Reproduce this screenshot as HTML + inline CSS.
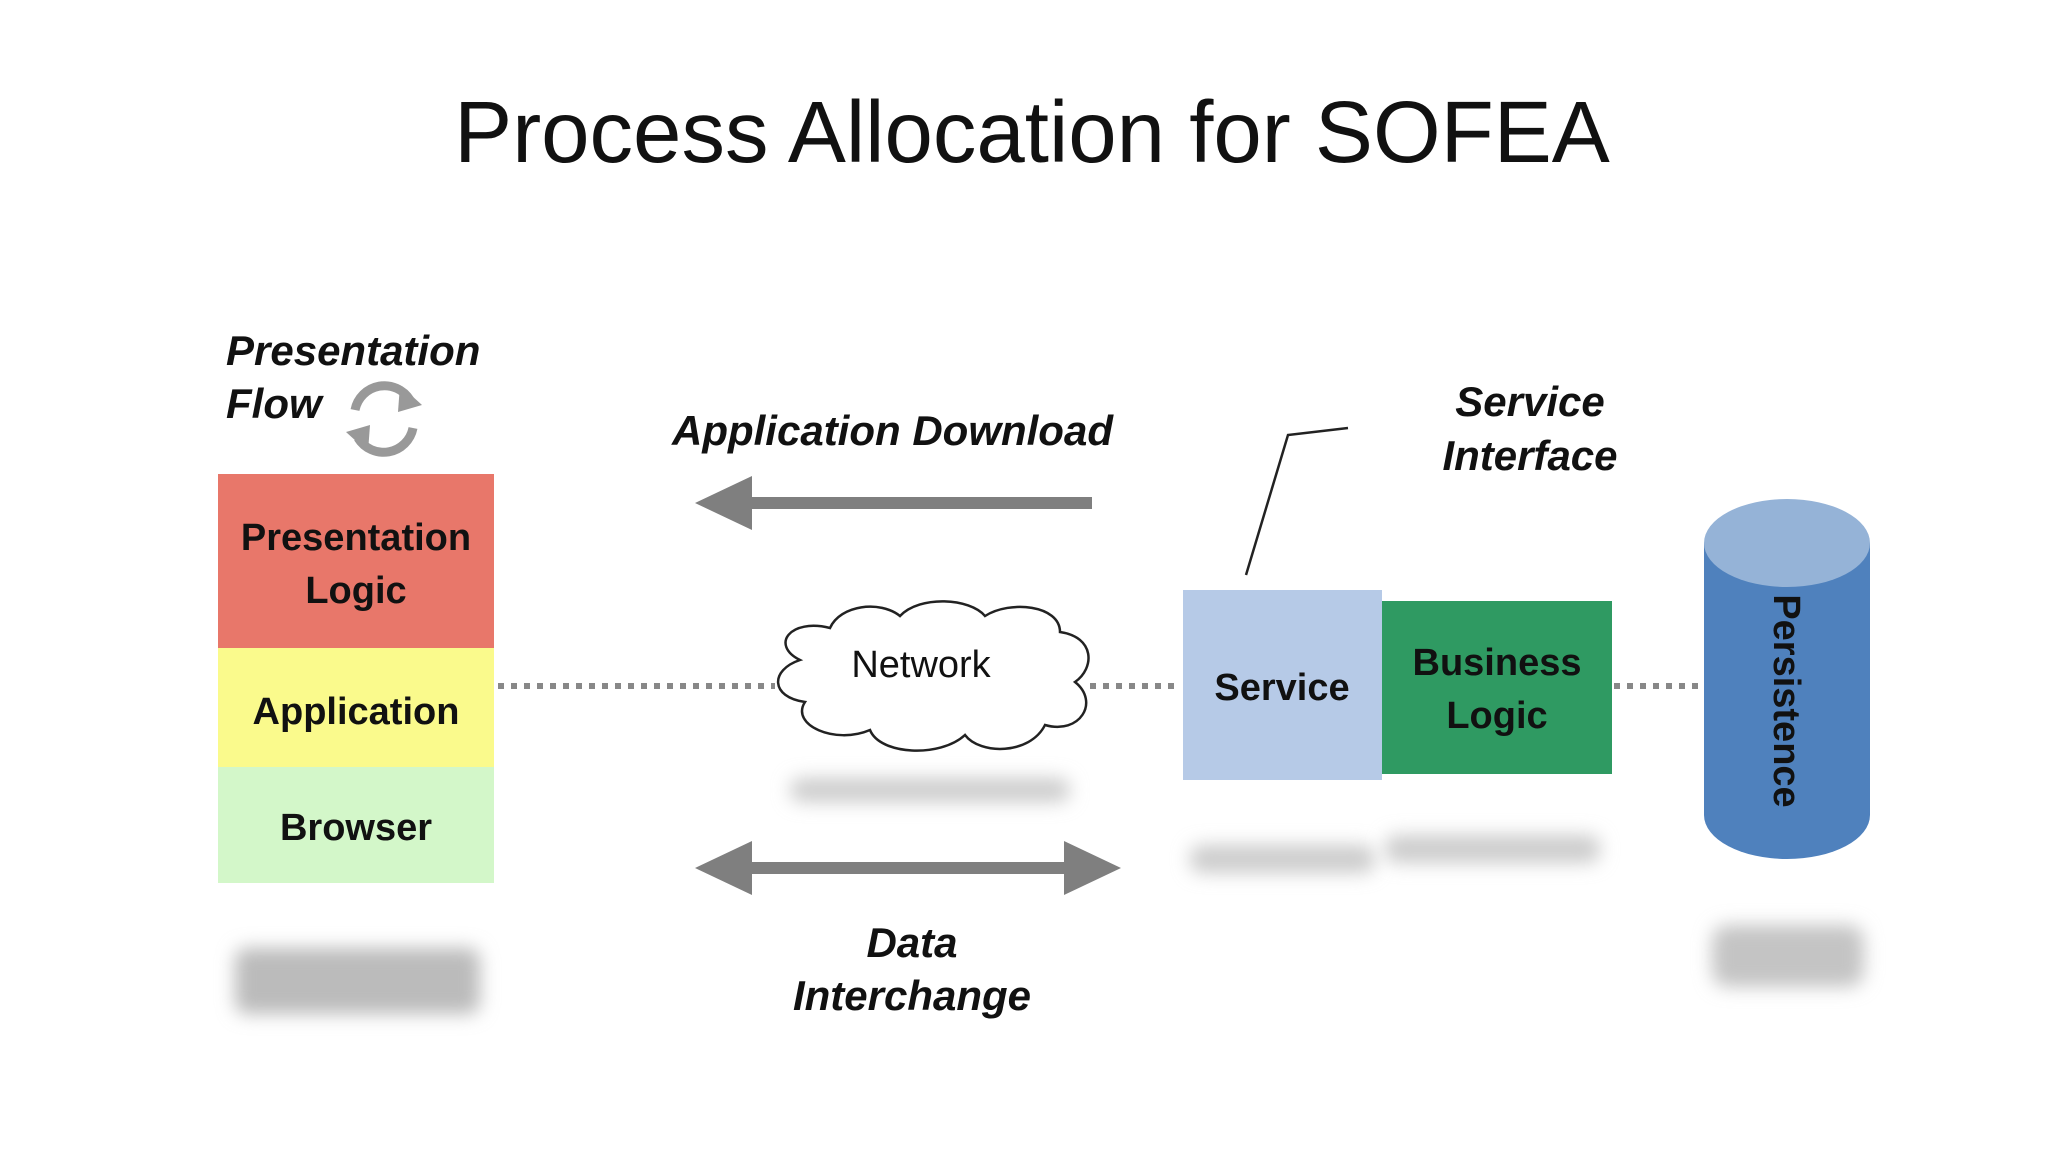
<!DOCTYPE html>
<html><head><meta charset="utf-8"><style>
body{margin:0;background:#fff;}
svg{display:block}
.h{font-family:"Liberation Sans",sans-serif;font-style:italic;font-weight:bold;font-size:42px;fill:#111}
.b{font-family:"Liberation Sans",sans-serif;font-weight:bold;font-size:38px;fill:#111}
</style></head><body>
<svg width="2048" height="1152" viewBox="0 0 2048 1152" xmlns="http://www.w3.org/2000/svg">
<defs>
<filter id="bl" x="-30%" y="-100%" width="160%" height="300%"><feGaussianBlur stdDeviation="9"/></filter>
</defs>
<rect width="2048" height="1152" fill="#fff"/>
<text x="1032" y="162" text-anchor="middle" font-family="Liberation Sans,sans-serif" font-size="87" fill="#111">Process Allocation for SOFEA</text>

<rect x="235" y="948" width="245" height="66" rx="12" fill="#bbb" filter="url(#bl)"/>
<rect x="790" y="778" width="280" height="24" rx="12" fill="#ccc" filter="url(#bl)"/>
<rect x="1190" y="845" width="185" height="28" rx="12" fill="#ccc" filter="url(#bl)"/>
<rect x="1385" y="835" width="215" height="28" rx="12" fill="#ccc" filter="url(#bl)"/>
<rect x="1712" y="925" width="152" height="62" rx="16" fill="#c4c4c4" filter="url(#bl)"/>

<rect x="218" y="474" width="276" height="174" fill="#e8776a"/>
<rect x="218" y="648" width="276" height="119" fill="#fafa8c"/>
<rect x="218" y="767" width="276" height="116" fill="#d3f7c9"/>
<text x="356" y="550" text-anchor="middle" class="b">Presentation</text>
<text x="356" y="603" text-anchor="middle" class="b">Logic</text>
<text x="356" y="724" text-anchor="middle" class="b" font-size="42">Application</text>
<text x="356" y="840" text-anchor="middle" class="b" font-size="42">Browser</text>

<text x="226" y="365" class="h">Presentation</text>
<text x="226" y="418" class="h">Flow</text>
<g fill="none" stroke="#999" stroke-width="9">
<path d="M355 410 A30 30 0 0 1 410 400"/>
<path d="M413 428 A30 30 0 0 1 358 438"/>
</g>
<polygon points="400,385 422,405 398,412" fill="#999"/>
<polygon points="368,452 346,432 370,425" fill="#999"/>

<g stroke="#888" stroke-width="6" stroke-dasharray="6 7">
<line x1="498" y1="686" x2="775" y2="686"/>
<line x1="1090" y1="686" x2="1180" y2="686"/>
<line x1="1614" y1="686" x2="1700" y2="686"/>
</g>

<text x="672" y="445" class="h">Application  Download</text>
<line x1="1092" y1="503" x2="740" y2="503" stroke="#7f7f7f" stroke-width="12"/>
<polygon points="695,503 752,476 752,530" fill="#7f7f7f"/>

<path d="M800 660 C770 645 790 618 830 628 C840 605 880 600 900 616 C920 595 970 598 985 616 C1010 600 1060 605 1060 632 C1095 637 1095 668 1075 682 C1100 702 1080 735 1045 725 C1030 755 980 755 965 735 C940 758 880 755 870 730 C835 745 790 725 805 702 C770 697 770 670 800 660 Z" fill="#fff" stroke="#222" stroke-width="2.5"/>
<text x="921" y="677" text-anchor="middle" font-family="Liberation Sans,sans-serif" font-size="38" fill="#111">Network</text>

<line x1="745" y1="868" x2="1070" y2="868" stroke="#7f7f7f" stroke-width="12"/>
<polygon points="695,868 752,841 752,895" fill="#7f7f7f"/>
<polygon points="1121,868 1064,841 1064,895" fill="#7f7f7f"/>
<text x="912" y="957" text-anchor="middle" class="h">Data</text>
<text x="912" y="1010" text-anchor="middle" class="h">Interchange</text>

<rect x="1183" y="590" width="199" height="190" fill="#b6cae7"/>
<rect x="1382" y="601" width="230" height="173" fill="#2f9a62"/>
<text x="1282" y="700" text-anchor="middle" class="b">Service</text>
<text x="1497" y="675" text-anchor="middle" class="b">Business</text>
<text x="1497" y="728" text-anchor="middle" class="b">Logic</text>
<polyline points="1246,575 1288,435 1348,428" fill="none" stroke="#222" stroke-width="2.5"/>
<text x="1530" y="416" text-anchor="middle" class="h">Service</text>
<text x="1530" y="470" text-anchor="middle" class="h">Interface</text>

<path d="M1704 543 L1704 815 A83 44 0 0 0 1870 815 L1870 543 Z" fill="#4f81bd"/>
<ellipse cx="1787" cy="543" rx="83" ry="44" fill="#95b3d7"/>
<text transform="translate(1774,701) rotate(90)" text-anchor="middle" class="b">Persistence</text>
</svg>
</body></html>
